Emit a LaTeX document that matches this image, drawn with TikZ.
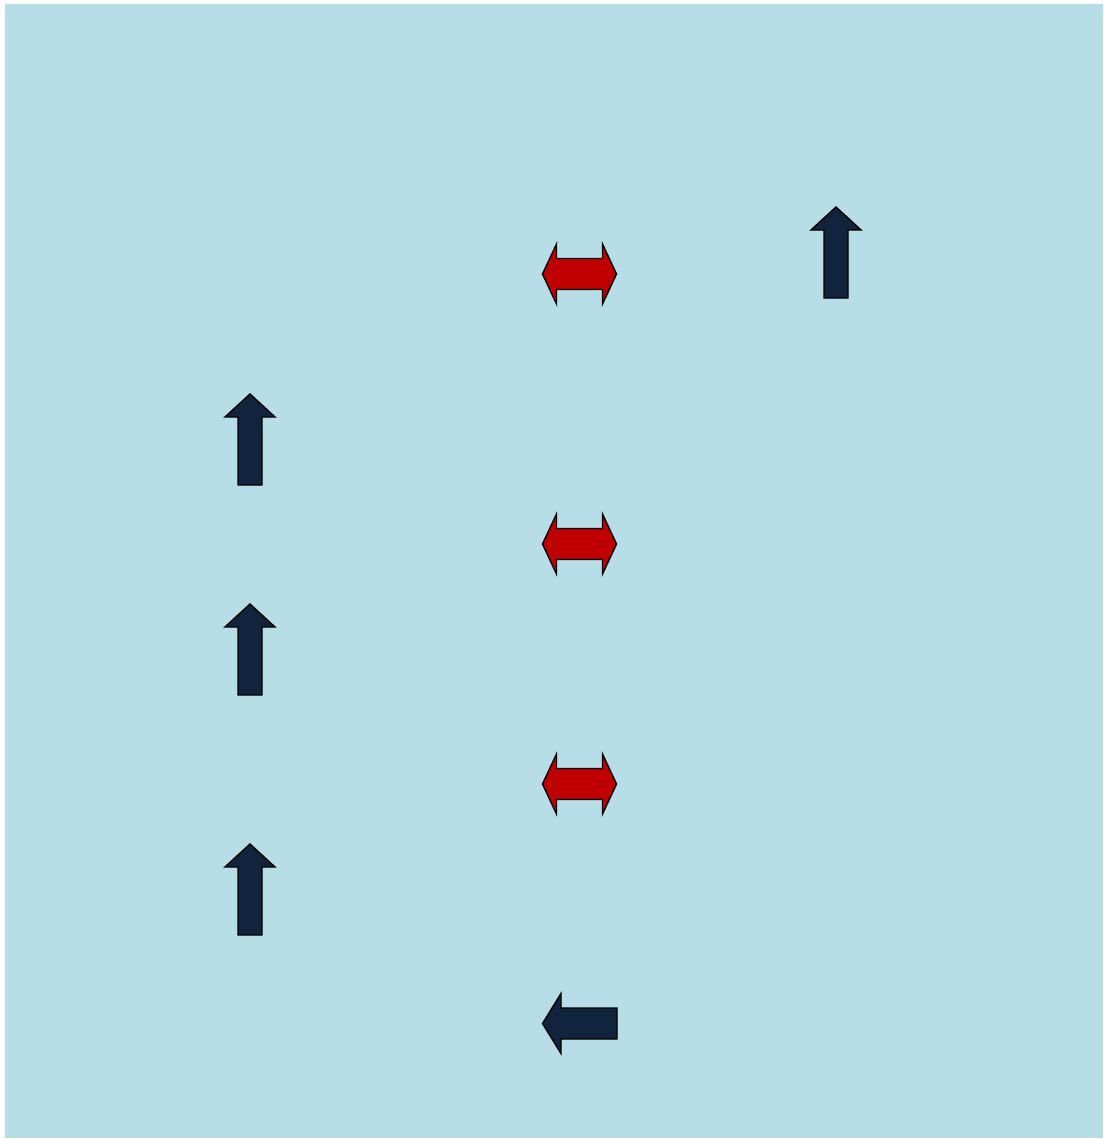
\documentclass[tikz,border=0pt]{standalone}
\usepackage{xcolor}
\usepackage{tikz}
\definecolor{paleblue}{HTML}{B7DDE6}
\definecolor{navyink}{HTML}{10243E}
\definecolor{deepred}{HTML}{C00000}
\tikzset{
  arrowshape/.style={draw=black,line width=0.8pt,line join=miter},
  uparrow/.pic={% tip at origin, pointing up
    \draw[arrowshape,fill=navyink] (0,0) -- (25,23) -- (12,23) -- (12,91)
      -- (-12,91) -- (-12,23) -- (-25,23) -- cycle;},
  dblarrow/.pic={% centre at origin
    \draw[arrowshape,fill=deepred] (-37,0) -- (-23,-30) -- (-23,-15.5) -- (23,-15.5)
      -- (23,-30) -- (37,0) -- (23,30) -- (23,15.5) -- (-23,15.5) -- (-23,30) -- cycle;},
  leftarrow/.pic={% tip at origin, pointing left
    \draw[arrowshape,fill=navyink] (0,0) -- (18.5,-30) -- (18.5,-15.5) -- (74.5,-15.5)
      -- (74.5,15.5) -- (18.5,15.5) -- (18.5,30) -- cycle;}
}

\begin{document}
\begin{tikzpicture}[x=0.02cm,y=-0.02cm]
  \useasboundingbox (0,0) rectangle (1103,1139);
  \fill[paleblue] (5,4) rectangle (1103,1138);
  % vertical arrows
  \pic at (836,207) {uparrow};
  \foreach \ty in {394,604,844}
    \pic at (250,\ty) {uparrow};
  % double arrows
  \foreach \cy in {274,544,784}
    \pic at (579.5,\cy) {dblarrow};
  % bottom arrow
  \pic at (542.5,1023.5) {leftarrow};
\end{tikzpicture}
\end{document}
